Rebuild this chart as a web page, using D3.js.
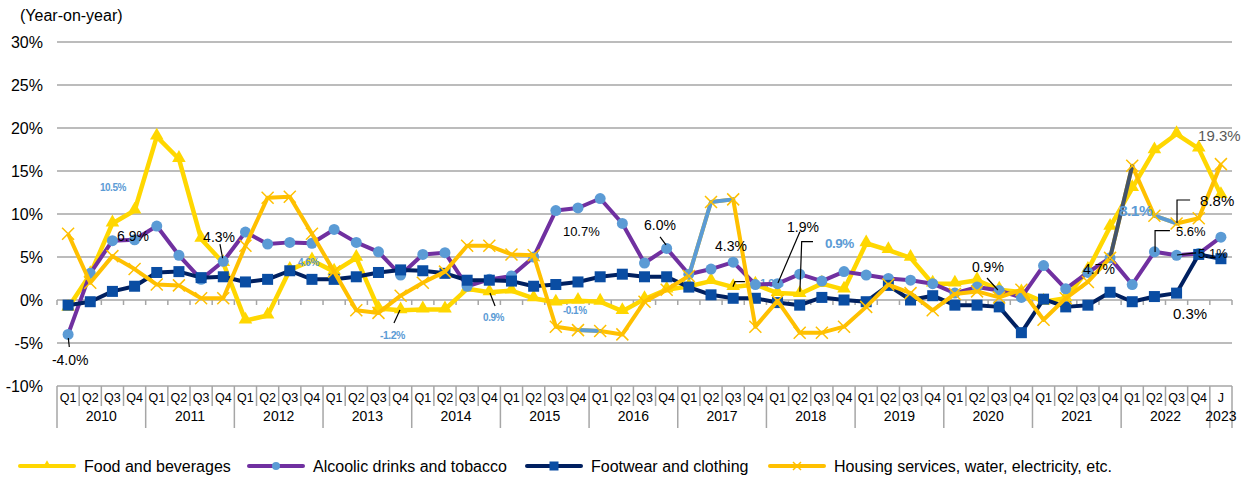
<!DOCTYPE html>
<html>
<head>
<meta charset="utf-8">
<script src="https://cdn.jsdelivr.net/npm/d3@7"></script>
<style>
    body { margin: 0; background: #fff; }
    svg { display: block; font-family: Arial, "Liberation Sans", sans-serif; }
</style>
</head>
<body>
<div id="chart-area"></div>
<script>
// quarterly categories, 2010 Q1 .. 2022 Q4, then January 2023
const years = ['2010', '2011', '2012', '2013', '2014', '2015', '2016', '2017', '2018', '2019', '2020', '2021', '2022'];
const quarters = ['Q1', 'Q2', 'Q3', 'Q4'];
const lastLabel = 'J';
const lastYear = '2023';

const yTicks = [-10, -5, 0, 5, 10, 15, 20, 25, 30];

const food = [
    -0.9, 3.0, 8.9, 10.4,   19.0, 16.4, 7.1, 4.3,   -2.4, -1.8, 3.5, 4.6,   3.3, 4.9, -1.0, -1.2,
    -1.1, -1.1, 1.3, 0.9,   1.1, 0.2, -0.3, -0.1,   -0.2, -1.3, 0.1, 1.2,   1.6, 2.2, 1.5, 1.8,
    0.8, 0.7, 1.9, 1.2,     6.6, 5.8, 4.9, 1.9,     1.9, 2.3, 1.2, 0.9,     -0.2, 0.2, 3.5, 8.5,
    13.0, 17.4, 19.3, 17.6, 12.2
];
const alcohol = [
    -4.0, 3.1, 6.9, 7.0,    8.6, 5.2, 2.4, 4.5,     7.9, 6.5, 6.7, 6.6,     8.2, 6.7, 5.6, 2.9,
    5.3, 5.5, 1.6, 2.4,     2.8, 5.0, 10.4, 10.7,   11.8, 8.9, 4.3, 6.0,    3.0, 3.6, 4.4, 1.8,
    1.9, 3.0, 2.2, 3.3,     2.9, 2.5, 2.3, 1.9,     0.8, 1.5, 1.1, 0.3,     4.0, 1.3, 3.2, 4.9,
    1.8, 5.6, 5.2, 5.4,     7.3
];
const footwear = [
    -0.6, -0.2, 1.0, 1.6,   3.2, 3.3, 2.6, 2.7,     2.1, 2.4, 3.4, 2.4,     2.4, 2.7, 3.2, 3.5,
    3.4, 3.1, 2.3, 2.3,     2.2, 1.6, 1.8, 2.1,     2.7, 3.0, 2.7, 2.7,     1.5, 0.6, 0.2, 0.2,
    -0.3, -0.6, 0.3, 0.0,   -0.2, 1.7, 0.0, 0.5,    -0.6, -0.6, -0.8, -3.8, 0.1, -0.8, -0.6, 0.9,
    -0.2, 0.4, 0.8, 5.3,    4.8
];
const housing = [
    7.7, 2.0, 5.1, 3.6,     1.8, 1.7, 0.2, 0.2,     6.3, 11.9, 12.0, 7.7,   3.3, -1.2, -1.5, 0.5,
    2.0, 3.3, 6.3, 6.3,     5.3, 5.2, -3.1, -3.5,   -3.6, -4.0, -0.2, 1.2,  2.8, 11.4, 11.7, -3.1,
    -0.1, -3.8, -3.8, -3.1, -0.8, 1.8, 0.8, -1.2,   0.7, 1.0, 0.3, 1.2,     -2.3, 0.2, 2.1, 4.9,
    15.6, 9.8, 8.9, 9.5,    15.8
];

const seriesNames = ['Food and beverages', 'Alcoolic drinks and tobacco', 'Footwear and clothing', 'Housing services, water, electricity, etc.'];

// data labels scattered over the plot: text, category position (fractional), value of baseline
const labels = [
    {t: '10.5%', i: 1.44, v: 12.67, k: 'blue', s: 10},
    {t: '-4.0%', i: -0.73, v: -7.56, k: 'black', s: 14},
    {t: '6.9%', i: 2.21, v: 6.86, k: 'black', s: 14},
    {t: '4.3%', i: 6.09, v: 6.74, k: 'black', s: 14},
    {t: '4.6%', i: 10.37, v: 4.0, k: 'blue', s: 10},
    {t: '-1.2%', i: 14.07, v: -4.53, k: 'blue', s: 10.5},
    {t: '0.9%', i: 18.72, v: -2.44, k: 'blue', s: 10},
    {t: '-0.1%', i: 22.32, v: -1.63, k: 'blue', s: 10},
    {t: '10.7%', i: 22.32, v: 7.44, k: 'black', s: 13},
    {t: '6.0%', i: 25.98, v: 8.14, k: 'black', s: 14},
    {t: '4.3%', i: 29.18, v: 5.7, k: 'black', s: 14},
    {t: '1.9%', i: 32.43, v: 7.9, k: 'black', s: 14},
    {t: '0.9%', i: 34.14, v: 6.05, k: 'blue', s: 13.5},
    {t: '0.9%', i: 40.77, v: 3.26, k: 'black', s: 14},
    {t: '4.7%', i: 45.78, v: 3.0, k: 'black', s: 14},
    {t: '8.1%', i: 47.4, v: 9.77, k: 'blue', s: 15.5},
    {t: '19.3%', i: 50.97, v: 18.5, k: 'gray', s: 15},
    {t: '8.8%', i: 51.06, v: 10.93, k: 'black', s: 15},
    {t: '5.6%', i: 49.97, v: 7.5, k: 'black', s: 13},
    {t: '5.1%', i: 50.97, v: 4.83, k: 'black', s: 13},
    {t: '0.3%', i: 49.84, v: -2.2, k: 'black', s: 15}
];
const hiddenLabel = {t: '1.9%', i: 31.21, v: 1.51, k: 'blue', s: 11};

// leader lines, as [category position, value] pairs
const leaders = [
    [[0.01, -4.42], [0.055, -5.47]],
    [[6.85, 6.51], [6.97, 4.88]],
    [[14.97, -1.16], [14.7, -2.67]],
    [[19.03, 0.81], [19.26, -0.7]],
    [[26.7, 7.33], [26.97, 6.4]],
    [[29.99, 1.55], [30.08, 2.13], [30.53, 2.13]],
    [[33.01, 7.94], [32.02, 1.98]],
    [[33.6, 6.78], [33.09, 6.78], [33.01, 0.97]],
    [[41.45, 2.56], [41.94, 1.16]],
    [[50.02, 8.95], [50.02, 11.63], [50.61, 11.63]],
    [[49.03, 5.58], [49.03, 8.06], [49.7, 8.06]],
    [[50.02, 5.23], [50.88, 5.47]]
];

(function () {
    'use strict';

    const WIDTH = 1248;
    const HEIGHT = 478;
    const PLOT = {left: 57, right: 1232, top: 42, bottom: 386};

    const COLORS = {
        food: '#FFD700',
        housing: '#FFC000',
        alcohol: '#7030A0',
        circle: '#5B9BD5',
        footwear: '#002060',
        square: '#0A4DA3',
        grid: '#A6A6A6',
        blue: '#5B9BD5',
        black: '#000',
        gray: '#595959'
    };
    // a few housing segments drawn in another colour in the original
    const housingSegments = {23: COLORS.blue, 28: COLORS.blue, 29: COLORS.blue, 47: '#44546A', 49: COLORS.blue};

    const cats = [];
    years.forEach(y => quarters.forEach(q => cats.push({q: q, y: y})));
    cats.push({q: lastLabel, y: lastYear});
    const n = cats.length;

    const svg = d3.select('#chart-area').append('svg')
        .attr('width', WIDTH)
        .attr('height', HEIGHT);

    const x = d3.scaleLinear()
        .domain([-0.5, n - 0.5])
        .range([PLOT.left, PLOT.right]);

    const y = d3.scaleLinear()
        .domain([-10, 30])
        .range([PLOT.bottom, PLOT.top]);

    // title
    svg.append('text')
        .attr('x', 20)
        .attr('y', 21)
        .attr('font-size', '16px')
        .text('(Year-on-year)');

    // grid + y labels
    svg.append('g').selectAll('line')
        .data(yTicks)
        .enter().append('line')
        .attr('x1', PLOT.left)
        .attr('x2', PLOT.right)
        .attr('y1', d => y(d))
        .attr('y2', d => y(d))
        .attr('stroke', COLORS.grid)
        .attr('stroke-width', 1.5);

    svg.append('g').selectAll('text')
        .data(yTicks)
        .enter().append('text')
        .attr('x', 43)
        .attr('y', d => y(d))
        .attr('dy', '0.36em')
        .attr('text-anchor', 'end')
        .attr('font-size', '16px')
        .text(d => d + '%');

    // small ticks on the zero line
    svg.append('g').selectAll('line')
        .data(d3.range(n + 1))
        .enter().append('line')
        .attr('x1', d => x(d - 0.5))
        .attr('x2', d => x(d - 0.5))
        .attr('y1', y(0))
        .attr('y2', y(0) + 5)
        .attr('stroke', COLORS.grid)
        .attr('stroke-width', 1.5);

    // category box under the plot
    const catAxis = svg.append('g').attr('class', 'cat-axis');
    catAxis.selectAll('line')
        .data(d3.range(n + 1))
        .enter().append('line')
        .attr('x1', d => x(d - 0.5))
        .attr('x2', d => x(d - 0.5))
        .attr('y1', PLOT.bottom)
        .attr('y2', d => (d % 4 === 0 || d === n) ? PLOT.bottom + 42 : PLOT.bottom + 20)
        .attr('stroke', COLORS.grid)
        .attr('stroke-width', 1.5);

    catAxis.selectAll('text.q')
        .data(cats)
        .enter().append('text')
        .attr('class', 'q')
        .attr('x', (d, i) => x(i))
        .attr('y', PLOT.bottom + 16)
        .attr('text-anchor', 'middle')
        .attr('font-size', '12.5px')
        .text(d => d.q);

    const yearGroups = d3.groups(cats.map((d, i) => ({y: d.y, i: i})), d => d.y);
    catAxis.selectAll('text.y')
        .data(yearGroups)
        .enter().append('text')
        .attr('class', 'y')
        .attr('x', d => x(d3.mean(d[1], e => e.i)))
        .attr('y', PLOT.bottom + 35)
        .attr('text-anchor', 'middle')
        .attr('font-size', '14px')
        .text(d => d[0]);

    const line = d3.line()
        .x((d, i) => x(i))
        .y(d => y(d));

    const labelText = (g, d) => g.append('text')
        .attr('x', x(d.i))
        .attr('y', y(d.v))
        .attr('font-size', d.s + 'px')
        .attr('font-weight', d.k === 'blue' ? 'bold' : 'normal')
        .attr('letter-spacing', d.k === 'blue' ? '-0.5px' : null)
        .attr('fill', COLORS[d.k])
        .text(d.t);

    labelText(svg, hiddenLabel);

    const graph = svg.append('g').attr('class', 'graph');

    // food and beverages
    graph.append('path')
        .attr('d', line(food))
        .attr('fill', 'none')
        .attr('stroke', COLORS.food)
        .attr('stroke-width', 4.5)
        .attr('stroke-linejoin', 'round');
    graph.append('g').selectAll('path')
        .data(food)
        .enter().append('path')
        .attr('d', d3.symbol(d3.symbolTriangle, 80))
        .attr('transform', (d, i) => `translate(${x(i)}, ${y(d) - 1})`)
        .attr('fill', COLORS.food);

    // alcoholic drinks
    graph.append('path')
        .attr('d', line(alcohol))
        .attr('fill', 'none')
        .attr('stroke', COLORS.alcohol)
        .attr('stroke-width', 4)
        .attr('stroke-linejoin', 'round');
    graph.append('g').selectAll('circle')
        .data(alcohol)
        .enter().append('circle')
        .attr('cx', (d, i) => x(i))
        .attr('cy', d => y(d))
        .attr('r', 5.5)
        .attr('fill', COLORS.circle);

    // footwear
    graph.append('path')
        .attr('d', line(footwear))
        .attr('fill', 'none')
        .attr('stroke', COLORS.footwear)
        .attr('stroke-width', 4)
        .attr('stroke-linejoin', 'round');
    graph.append('g').selectAll('rect')
        .data(footwear)
        .enter().append('rect')
        .attr('x', (d, i) => x(i) - 5.5)
        .attr('y', d => y(d) - 5.5)
        .attr('width', 11)
        .attr('height', 11)
        .attr('fill', COLORS.square);

    // housing
    graph.append('path')
        .attr('d', line(housing))
        .attr('fill', 'none')
        .attr('stroke', COLORS.housing)
        .attr('stroke-width', 4)
        .attr('stroke-linejoin', 'round');
    graph.append('g').selectAll('line')
        .data(Object.keys(housingSegments).map(Number))
        .enter().append('line')
        .attr('x1', d => x(d))
        .attr('x2', d => x(d + 1))
        .attr('y1', d => y(housing[d]))
        .attr('y2', d => y(housing[d + 1]))
        .attr('stroke', d => housingSegments[d])
        .attr('stroke-width', 4)
        .attr('stroke-linecap', 'round');
    graph.append('g').selectAll('path')
        .data(housing)
        .enter().append('path')
        .attr('d', 'M-6,-6L6,6M-6,6L6,-6')
        .attr('transform', (d, i) => `translate(${x(i)}, ${y(d)})`)
        .attr('fill', 'none')
        .attr('stroke', COLORS.housing)
        .attr('stroke-width', 1.5);

    // leader lines and data labels
    const notes = svg.append('g').attr('class', 'notes');
    const leaderLine = d3.line()
        .x(d => x(d[0]))
        .y(d => y(d[1]));
    notes.selectAll('path')
        .data(leaders)
        .enter().append('path')
        .attr('d', leaderLine)
        .attr('fill', 'none')
        .attr('stroke', '#000')
        .attr('stroke-width', 1.2);
    labels.forEach(d => labelText(notes, d));

    // legend
    const legend = svg.append('g').attr('class', 'legend')
        .attr('transform', 'translate(0, 466)');
    const legendItems = [
        {x: 20, color: COLORS.food, marker: 'triangle'},
        {x: 249, color: COLORS.alcohol, marker: 'circle'},
        {x: 527, color: COLORS.footwear, marker: 'square'},
        {x: 770, color: COLORS.housing, marker: 'x'}
    ];
    legendItems.forEach((item, i) => {
        const row = legend.append('g').attr('transform', `translate(${item.x}, 0)`);
        row.append('line')
            .attr('x1', 0)
            .attr('x2', 54)
            .attr('stroke', item.color)
            .attr('stroke-width', 4)
            .attr('stroke-linecap', 'round');
        if (item.marker === 'triangle') {
            row.append('path')
                .attr('d', d3.symbol(d3.symbolTriangle, 30))
                .attr('transform', 'translate(27, -1)')
                .attr('fill', COLORS.food);
        } else if (item.marker === 'circle') {
            row.append('circle')
                .attr('cx', 27)
                .attr('r', 4)
                .attr('fill', COLORS.circle);
        } else if (item.marker === 'square') {
            row.append('rect')
                .attr('x', 22.5)
                .attr('y', -4.5)
                .attr('width', 9)
                .attr('height', 9)
                .attr('fill', COLORS.square);
        } else {
            row.append('path')
                .attr('d', 'M-4,-4L4,4M-4,4L4,-4')
                .attr('transform', 'translate(27, 0)')
                .attr('stroke', COLORS.housing)
                .attr('stroke-width', 1.5);
        }
        row.append('text')
            .attr('x', 64)
            .attr('dy', '0.36em')
            .attr('font-size', '16px')
            .text(seriesNames[i]);
    });
})();
</script>
</body>
</html>
